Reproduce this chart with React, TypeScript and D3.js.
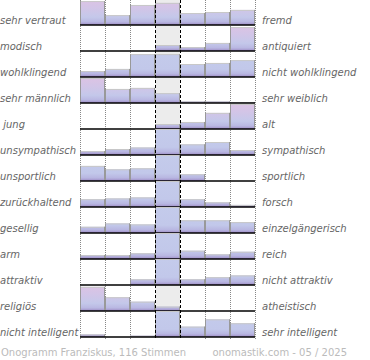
import React, { useRef, useEffect } from 'react';
import * as d3 from 'd3';

const leftLabels = [
  'sehr vertraut', 'modisch', 'wohlklingend', 'sehr männlich', ' jung',
  'unsympathisch', 'unsportlich', 'zurückhaltend', 'gesellig', 'arm',
  'attraktiv', 'religiös', 'nicht intelligent',
];
const rightLabels = [
  'fremd', 'antiquiert', 'nicht wohlklingend', 'sehr weiblich', 'alt',
  'sympathisch', 'sportlich', 'forsch', 'einzelgängerisch', 'reich',
  'nicht attraktiv', 'atheistisch', 'sehr intelligent',
];
// bar heights per row, 7 steps of the scale (100 = full row)
const values = [
  [92, 38, 77, 85, 46, 50, 58],
  [0, 0, 0, 23, 15, 31, 92],
  [23, 31, 88, 88, 50, 54, 65],
  [96, 54, 58, 38, 6, 6, 3],
  [0, 0, 0, 19, 27, 62, 96],
  [15, 23, 29, 100, 41, 50, 19],
  [58, 45, 49, 100, 26, 0, 0],
  [30, 33, 37, 100, 30, 18, 8],
  [24, 37, 33, 100, 49, 49, 42],
  [15, 15, 22, 100, 32, 18, 28],
  [0, 0, 22, 100, 22, 30, 37],
  [93, 53, 36, 17, 0, 0, 0],
  [10, 0, 5, 100, 40, 68, 53],
];
const steps = [0, 1, 2, 3, 4, 5, 6];
const footerLeft = 'Onogramm Franziskus, 116 Stimmen';
const footerRight = 'onomastik.com - 05 / 2025';

const Chart = ({ width = 370, height = 360 }) => {
  const svgRef = useRef<SVGSVGElement>(null);

  useEffect(() => {
    const svg = d3.select(svgRef.current);
    svg.selectAll('*').remove();

    const rowH = 26;
    const top = 25 - rowH;
    const plotLeft = 80;
    const plotRight = 255;
    const font = 'DejaVu Sans, Verdana, sans-serif';

    const x = d3.scaleBand<number>().domain(steps).range([plotLeft, plotRight]).padding(0);
    const rowY = d3.scaleBand<number>()
      .domain(d3.range(values.length))
      .range([top, top + rowH * values.length])
      .padding(0);
    const h = d3.scaleLinear().domain([0, 100]).range([0, rowH]).clamp(true);

    const defs = svg.append('defs');
    const makeGrad = (id: string, stops: [number, string][]) => {
      const grad = defs.append('linearGradient')
        .attr('id', id)
        .attr('gradientUnits', 'userSpaceOnUse')
        .attr('x1', 0).attr('x2', 0).attr('y1', 0).attr('y2', rowH);
      stops.forEach(([o, c]) => grad.append('stop').attr('offset', o).attr('stop-color', c));
    };
    // rows peaking at an extreme end get the pink tint
    makeGrad('gradPink', [[0, '#ddc3e4'], [0.35, '#d2c5e7'], [0.7, '#c4c8ea'], [0.88, '#b9b8e2'], [1, '#9d8ac4']]);
    makeGrad('gradBlue', [[0, '#c4cbeb'], [0.7, '#c2c8ea'], [0.88, '#b8b6e1'], [1, '#9d8ac4']]);

    const bottom = rowY(values.length - 1)! + rowH;

    // neutral centre column
    svg.append('rect')
      .attr('x', x(3)!).attr('y', 0)
      .attr('width', x.bandwidth()).attr('height', bottom)
      .attr('fill', '#ececec');

    // dotted grid
    const dotted = [0, 1, 2, 5, 6].map(d => x(d)!).concat([plotRight]);
    svg.selectAll('.dot-line').data(dotted).enter().append('line')
      .attr('x1', d => d + 0.5).attr('x2', d => d + 0.5)
      .attr('y1', 0).attr('y2', bottom + 2)
      .attr('stroke', '#888').attr('stroke-width', 1)
      .attr('stroke-dasharray', '1,1');

    const rows = svg.selectAll('.row').data(values).enter().append('g')
      .attr('class', 'row')
      .attr('transform', (_, i) => `translate(0,${rowY(i)})`);

    rows.each(function (row) {
      const g = d3.select(this);
      const peak = d3.maxIndex(row);
      const fill = peak === 0 || peak === 6 ? 'url(#gradPink)' : 'url(#gradBlue)';
      const bars = g.selectAll('.bar').data(row.map((v, i) => ({ v, i })).filter(d => d.v > 0))
        .enter().append('g');
      bars.append('rect')
        .attr('x', d => x(d.i)!).attr('y', d => rowH - h(d.v))
        .attr('width', x.bandwidth()).attr('height', d => h(d.v))
        .attr('fill', fill);
      bars.append('line')
        .attr('x1', d => x(d.i)!).attr('x2', d => x(d.i)! + x.bandwidth())
        .attr('y1', d => rowH - h(d.v) + 0.5).attr('y2', d => rowH - h(d.v) + 0.5)
        .attr('stroke', '#c8c8c8');
      bars.append('line')
        .attr('x1', d => x(d.i)! + 0.5).attr('x2', d => x(d.i)! + 0.5)
        .attr('y1', d => rowH - h(d.v)).attr('y2', rowH)
        .attr('stroke', '#999');
      bars.append('line')
        .attr('x1', d => x(d.i)! + x.bandwidth() - 0.5).attr('x2', d => x(d.i)! + x.bandwidth() - 0.5)
        .attr('y1', d => rowH - h(d.v)).attr('y2', rowH)
        .attr('stroke', '#999');
      g.append('line')
        .attr('x1', plotLeft).attr('x2', plotRight)
        .attr('y1', rowH).attr('y2', rowH)
        .attr('stroke', '#000').attr('stroke-width', 1.5);
    });

    // dashed centre borders
    svg.selectAll('.dash-line').data([x(3)!, x(4)!]).enter().append('line')
      .attr('x1', d => d + 0.5).attr('x2', d => d + 0.5)
      .attr('y1', 0).attr('y2', bottom + 2)
      .attr('stroke', '#000').attr('stroke-width', 1)
      .attr('stroke-dasharray', '3,2');

    svg.selectAll('.lbl-left').data(leftLabels).enter().append('text')
      .attr('x', 0).attr('y', (_, i) => rowY(i)! + rowH - 1.5)
      .style('white-space', 'pre')
      .attr('font-family', font).attr('font-size', 10).attr('font-style', 'italic')
      .attr('fill', '#666')
      .text(d => d);

    svg.selectAll('.lbl-right').data(rightLabels).enter().append('text')
      .attr('x', 262).attr('y', (_, i) => rowY(i)! + rowH - 1.5)
      .attr('font-family', font).attr('font-size', 10).attr('font-style', 'italic')
      .attr('fill', '#666')
      .text(d => d);

    svg.append('text')
      .attr('x', 1).attr('y', 356)
      .attr('font-family', font).attr('font-size', 10).attr('fill', '#bbb')
      .text(footerLeft);
    svg.append('text')
      .attr('x', 347).attr('y', 356).attr('text-anchor', 'end')
      .attr('font-family', font).attr('font-size', 10).attr('fill', '#bbb')
      .text(footerRight);
  }, [width, height]);

  return (
    <svg ref={svgRef} width={width} height={height}
      style={{ position: 'absolute', left: 0, top: 0, background: '#fff' }}></svg>
  );
};

export default function App() {
  return <Chart />;
}
